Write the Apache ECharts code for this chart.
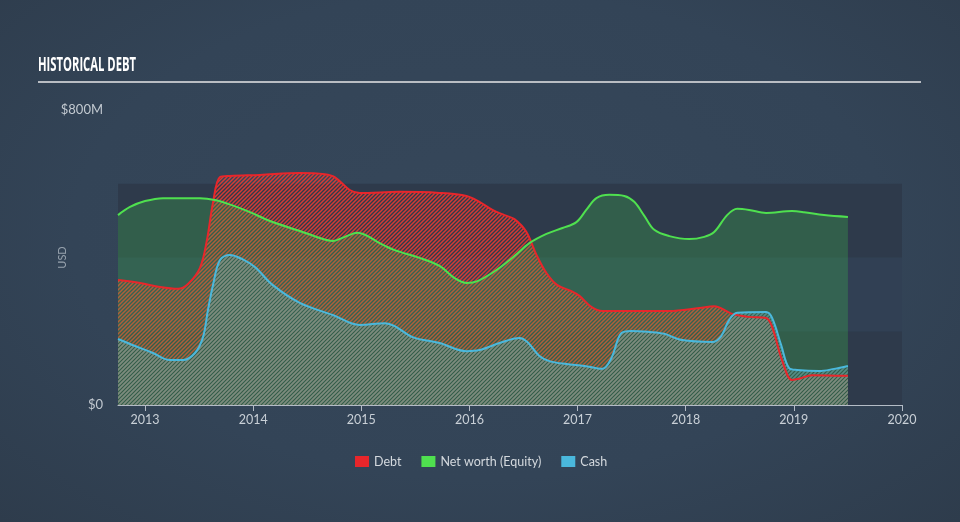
<!DOCTYPE html>
<html>
<head>
<meta charset="utf-8">
<script src="https://cdn.jsdelivr.net/npm/echarts@6/dist/echarts.min.js"></script>
<style>
html,body{margin:0;padding:0;width:960px;height:522px;overflow:hidden;}
body{background: radial-gradient(ellipse at 50% 45%, #36475a 0%, #334457 60%, #2e3c4c 100%);}
#c{width:960px;height:522px;}
</style>
</head>
<body>
<div id="c"></div>
<script>
// ---- Data (years as decimals, values in $M) ----
const debtDates = [2012.75,2012.954,2013.139,2013.305,2013.397,2013.508,2013.572,2013.628,2013.693,2013.785,2014.062,2014.431,2014.662,2014.754,2014.893,2014.985,2015.355,2015.724,2015.973,2016.093,2016.213,2016.324,2016.416,2016.527,2016.62,2016.712,2016.813,2016.943,2017.017,2017.127,2017.229,2017.571,2017.848,2018.125,2018.263,2018.429,2018.586,2018.743,2018.799,2018.89,2018.983,2019.048,2019.168,2019.5];
const debtValues = [339,331,320,315,328,372,447,548,618,621,624,629,626,618,583,575,578,575,567,551,529,515,504,469,407,358,325,309,296,266,255,255,255,263,268,247,239,236,212,122,68,71,81,79];

const equityDates = [2012.75,2012.861,2013.0,2013.166,2013.508,2013.646,2013.803,2013.97,2014.154,2014.431,2014.616,2014.736,2014.847,2014.967,2015.059,2015.17,2015.309,2015.539,2015.724,2015.863,2015.973,2016.075,2016.25,2016.416,2016.555,2016.712,2016.86,2016.989,2017.08,2017.174,2017.293,2017.432,2017.524,2017.617,2017.709,2017.848,2018.032,2018.171,2018.263,2018.383,2018.476,2018.586,2018.743,2018.983,2019.094,2019.279,2019.5];
const equityValues = [515,537,553,561,561,556,542,523,499,472,453,445,456,467,458,439,420,399,377,344,331,336,366,404,439,464,480,496,529,561,570,567,551,513,475,458,450,456,469,515,532,529,521,526,523,515,510];

const cashDates = [2012.75,2012.908,2013.074,2013.231,2013.351,2013.462,2013.536,2013.582,2013.628,2013.693,2013.785,2013.896,2014.016,2014.182,2014.431,2014.736,2014.985,2015.216,2015.309,2015.475,2015.724,2015.973,2016.093,2016.278,2016.462,2016.536,2016.647,2016.74,2016.897,2017.063,2017.229,2017.312,2017.404,2017.497,2017.663,2017.801,2017.968,2018.245,2018.328,2018.402,2018.476,2018.743,2018.799,2018.882,2018.956,2019.03,2019.233,2019.372,2019.5];
const cashValues = [179,160,141,122,122,141,184,258,325,393,407,396,374,325,277,244,217,222,214,184,168,146,149,168,182,171,133,119,111,106,98,127,195,201,198,193,176,171,187,231,250,252,236,163,100,95,92,98,106];

const xTickYears = [2013,2014,2015,2016,2017,2018,2019,2020];
const yTickValues = [0,800];
const seriesNames = ['Debt','Net worth (Equity)','Cash'];

function zip(xs, ys){ return xs.map((x,i)=>[x, ys[i]]); }

function hatch(color, size, width){
  const c = document.createElement('canvas');
  c.width = size; c.height = size;
  const g = c.getContext('2d');
  g.strokeStyle = color; g.lineWidth = width; g.lineCap = 'square';
  g.beginPath();
  g.moveTo(0, size); g.lineTo(size, 0);
  g.moveTo(-size/2, size/2); g.lineTo(size/2, -size/2);
  g.moveTo(size/2, size*1.5); g.lineTo(size*1.5, size/2);
  g.stroke();
  return c;
}

const TITLE_FONT = 'bold 20px "Open Sans", sans-serif';
const mc = document.createElement('canvas').getContext('2d');
mc.font = TITLE_FONT;
const titleScale = 98 / mc.measureText('HISTORICAL DEBT').width;

const chart = echarts.init(document.getElementById('c'), null, {renderer:'canvas'});
const FONT = 'Lato, "Open Sans", sans-serif';

const option = {
  backgroundColor: 'transparent',
  animation: false,
  grid: {left: 118, right: 58, top: 110, bottom: 117},
  graphic: [
    {type:'text', x: 38, y: 55, scaleX: titleScale, style:{text:'HISTORICAL DEBT', fill:'#ffffff', font: TITLE_FONT}},
    {type:'line', shape:{x1:38, y1:82, x2:921, y2:82}, style:{stroke:'#b9bdc3', lineWidth:2}}
  ],
  legend: {
    data: [
      {name:'Debt', itemStyle:{color:'#e8262b'}},
      {name:'Net worth (Equity)', itemStyle:{color:'#4fe04f'}},
      {name:'Cash', itemStyle:{color:'#4ab8dc'}}
    ],
    icon: 'rect', itemWidth: 14, itemHeight: 11, itemGap: 20,
    left: 350, top: 450,
    textStyle: {color:'#d4d9de', fontSize: 12.5, fontFamily: FONT}
  },
  xAxis: {
    type: 'value', min: 2012.75, max: 2020,
    splitLine: {show:false},
    axisLine: {show:true, lineStyle:{color:'#b4bcc6', width:1}},
    axisTick: {show:true, customValues: xTickYears, length: 6, lineStyle:{color:'#b4bcc6'}},
    axisLabel: {customValues: xTickYears, color:'#c9d0d7', fontSize:12.5, fontFamily: FONT, margin: 8, formatter: v => String(v)}
  },
  yAxis: {
    type: 'value', min: 0, max: 800,
    name: 'USD', nameLocation: 'middle', nameRotate: 90, nameGap: 50, nameMoveOverlap: false,
    nameTextStyle: {color:'#98a3ae', fontSize: 11, fontFamily: FONT},
    splitLine: {show:false},
    axisLine: {show:false}, axisTick: {show:false},
    axisLabel: {customValues: yTickValues, color:'#c2c9d0', fontSize:13, fontFamily: FONT, margin: 15,
      formatter: v => v === 0 ? '$0' : '$' + v + 'M'}
  },
  series: [
    {
      type:'line', name:'bands', data: [], z: 1, silent: true,
      markArea: {silent:true, data: [
        [{yAxis:0, itemStyle:{color:'#2e3a4b'}}, {yAxis:200}],
        [{yAxis:200, itemStyle:{color:'#314054'}}, {yAxis:400}],
        [{yAxis:400, itemStyle:{color:'#2e3a4b'}}, {yAxis:600}]
      ]}
    },
    {
      type:'line', name: seriesNames[0], data: zip(debtDates, debtValues),
      smooth: 0.35, showSymbol:false, symbol:'none',
      lineStyle:{color:'#e8262b', width:2},
      itemStyle:{color:'#e8262b'},
      areaStyle:{color:{image: hatch('rgba(232,60,50,0.9)', 4, 1.5), repeat:'repeat'}, opacity:1}
    },
    {
      type:'line', name: seriesNames[1], data: zip(equityDates, equityValues),
      smooth: 0.35, showSymbol:false, symbol:'none',
      lineStyle:{color:'#4fe04f', width:2},
      itemStyle:{color:'#4fe04f'},
      areaStyle:{color:'rgba(65,205,75,0.25)', opacity:1}
    },
    {
      type:'line', name: seriesNames[2], data: zip(cashDates, cashValues),
      smooth: 0.35, showSymbol:false, symbol:'none',
      lineStyle:{color:'#4ab8dc', width:2},
      itemStyle:{color:'#4ab8dc'},
      areaStyle:{color:{image: hatch('rgba(100,160,155,0.72)', 4, 1.6), repeat:'repeat'}, opacity:1}
    }
  ]
};
chart.setOption(option);
</script>
</body>
</html>
